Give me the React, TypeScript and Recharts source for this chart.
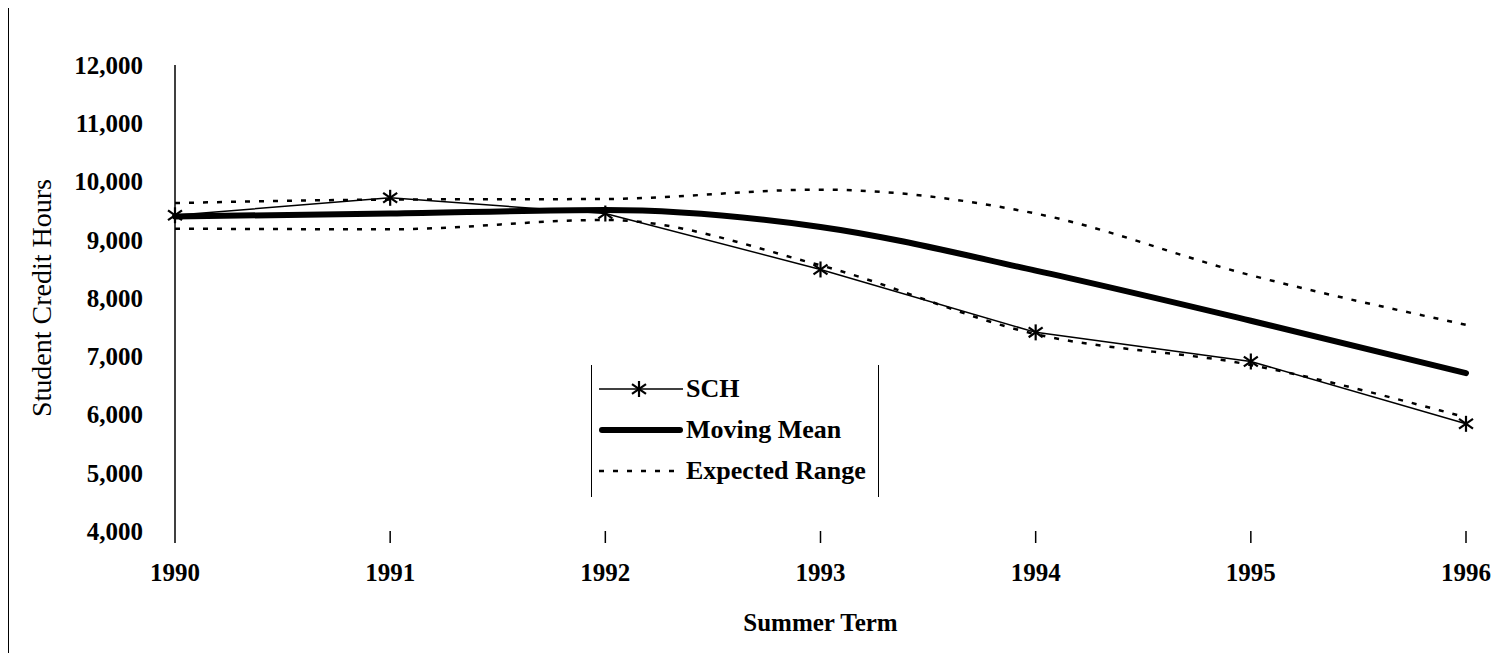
import React from 'react';
import { LineChart, Line, XAxis, YAxis, Label } from 'recharts';

const years = ['1990', '1991', '1992', '1993', '1994', '1995', '1996'];
const sch = [9420, 9720, 9450, 8490, 7410, 6910, 5840];
const movingMean = [9400, 9450, 9510, 9220, 8470, 7610, 6710];
const upperRange = [9630, 9690, 9700, 9860, 9450, 8390, 7540];
const lowerRange = [9190, 9180, 9340, 8560, 7380, 6850, 5950];
const yTicks = [4000, 5000, 6000, 7000, 8000, 9000, 10000, 11000, 12000];

const data = years.map((year, i) => ({
  year,
  sch: sch[i],
  mean: movingMean[i],
  upper: upperRange[i],
  lower: lowerRange[i],
}));

const serif = '"Liberation Serif", "Times New Roman", serif';

// six-armed asterisk marker, like the old spreadsheet one
const StarDot = (props: any) => {
  const { cx, cy } = props;
  if (cx == null || cy == null) return null;
  const r = 7;
  return (
    <g stroke="#000" strokeWidth={2.2}>
      <line x1={cx} y1={cy - r - 1} x2={cx} y2={cy + r + 1} />
      <line x1={cx - r} y1={cy - r * 0.7} x2={cx + r} y2={cy + r * 0.7} />
      <line x1={cx - r} y1={cy + r * 0.7} x2={cx + r} y2={cy - r * 0.7} />
    </g>
  );
};

const LegendBox = () => {
  const rowStyle: React.CSSProperties = { display: 'flex', alignItems: 'center', height: 41 };
  const textStyle: React.CSSProperties = { fontFamily: serif, fontWeight: 700, fontSize: 26, marginLeft: 3 };
  return (
    <div style={{ position: 'absolute', left: 582, top: 357, width: 288, height: 132, borderLeft: '1.5px solid #000',
      borderRight: '1.5px solid #000', paddingLeft: 7, paddingTop: 3, boxSizing: 'border-box' }}>
      <div style={rowStyle}>
        <svg width={84} height={20}>
          <line x1={0} y1={10} x2={84} y2={10} stroke="#000" strokeWidth={1.5} />
          <StarDot cx={40} cy={10} />
        </svg>
        <span style={textStyle}>SCH</span>
      </div>
      <div style={rowStyle}>
        <svg width={84} height={20}>
          <line x1={3} y1={10} x2={81} y2={10} stroke="#000" strokeWidth={6} strokeLinecap="round" />
        </svg>
        <span style={textStyle}>Moving Mean</span>
      </div>
      <div style={rowStyle}>
        <svg width={84} height={20}>
          <line x1={0} y1={10} x2={84} y2={10} stroke="#000" strokeWidth={2.5} strokeDasharray="5 9" />
        </svg>
        <span style={textStyle}>Expected Range</span>
      </div>
    </div>
  );
};

export default function App() {
  const tickStyle = { fontFamily: serif, fontWeight: 700, fontSize: 25, fill: '#000' };
  return (
    <div style={{ position: 'relative', width: 1490, height: 645, borderLeft: '1px solid #000', background: '#fff' }}>
      <LineChart width={1489} height={645} data={data} margin={{ top: 57, right: 32, left: 0, bottom: 22 }}>
        <XAxis dataKey="year" axisLine={false} tickLine={{ stroke: '#000', strokeWidth: 1.5 }} tickSize={12}
          tickMargin={20} tick={tickStyle} height={100} interval={0}>
          <Label value="Summer Term" position="insideBottom" offset={0}
            style={{ fontFamily: serif, fontWeight: 700, fontSize: 25, fill: '#000' }} />
        </XAxis>
        <YAxis domain={[4000, 12000]} ticks={yTicks} width={166} tickSize={0} tickMargin={32}
          axisLine={{ stroke: '#000', strokeWidth: 1.5 }} tick={tickStyle}
          tickFormatter={(v: number) => v.toLocaleString('en-US')}>
          <Label value="Student Credit Hours" angle={-90} position="center" dx={-51}
            style={{ fontFamily: serif, fontSize: 28, fill: '#000', textAnchor: 'middle' }} />
        </YAxis>
        <Line type="monotone" dataKey="upper" name="Expected Range" stroke="#000" strokeWidth={2.5}
          strokeDasharray="5 9" dot={false} isAnimationActive={false} />
        <Line type="monotone" dataKey="lower" name="Expected Range (low)" stroke="#000" strokeWidth={2.5}
          strokeDasharray="5 9" dot={false} isAnimationActive={false} />
        <Line type="monotone" dataKey="mean" name="Moving Mean" stroke="#000" strokeWidth={6}
          strokeLinecap="round" dot={false} isAnimationActive={false} />
        <Line type="linear" dataKey="sch" name="SCH" stroke="#000" strokeWidth={1.5}
          dot={<StarDot />} isAnimationActive={false} />
      </LineChart>
      <LegendBox />
    </div>
  );
}
